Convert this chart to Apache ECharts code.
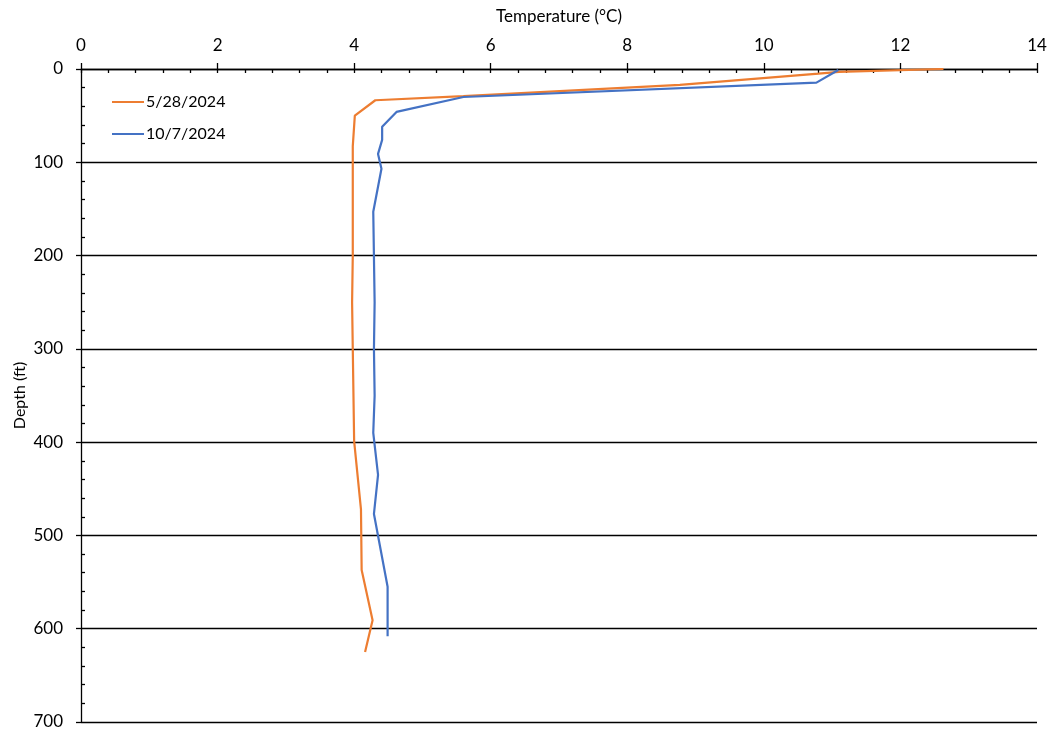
<!DOCTYPE html>
<html>
<head>
<meta charset="utf-8">
<script src="https://cdn.jsdelivr.net/npm/echarts@6/dist/echarts.min.js"></script>
<style>
html,body{margin:0;padding:0;background:#fff;}
#c{width:1052px;height:734px;}
</style>
</head>
<body>
<div id="c"></div>
<script>
const seriesNames = ['5/28/2024', '10/7/2024'];
// [temperature °C, depth ft]
const may28Temp  = [12.63, 11.10, 10.80, 8.77, 5.60, 4.31, 4.01, 3.98, 3.98, 3.97, 3.98, 4.00, 4.10, 4.11, 4.27, 4.16];
const may28Depth = [0,     3,     5,     17,   29,   33.5, 50,   83,   200,  250,  300,  399,  472,  537,  591,  625];
const oct7Temp   = [11.09, 10.77, 5.60, 4.62, 4.41, 4.41, 4.35, 4.40, 4.28, 4.30, 4.29, 4.30, 4.28, 4.35, 4.29, 4.49, 4.49];
const oct7Depth  = [1,     14.6,  30,   46,   62,   76,   91,   107,  153,  250,  300,  350,  390,  435,  477,  555,  608];
const xTicks = { min: 0, max: 14, interval: 2 };
const yTicks = { min: 0, max: 700, interval: 100 };

const pair = (a, b) => a.map((v, i) => [v, b[i]]);
const font = 'Lato, "Open Sans", sans-serif';
const txt = '#000';

const chart = echarts.init(document.getElementById('c'), null, { renderer: 'canvas' });
chart.setOption({
  animation: false,
  backgroundColor: '#fff',
  grid: { left: 81, right: 15, top: 69, bottom: 12, containLabel: false, outerBoundsMode: 'none' },
  legend: {
    orient: 'vertical', left: 107, top: 89,
    itemWidth: 32, itemHeight: 2, itemGap: 16,
    icon: 'rect',
    textStyle: { fontFamily: font, fontSize: 16, color: txt, padding: [0, 0, 0, -3] },
    data: seriesNames
  },
  xAxis: [
    {
      type: 'value', position: 'top', min: xTicks.min, max: xTicks.max, interval: xTicks.interval,
      name: 'Temperature (°C)', nameLocation: 'middle', nameGap: 44,
      nameTextStyle: { fontFamily: font, fontSize: 17, color: txt },
      axisLine: { show: true, lineStyle: { color: '#000', width: 1.3 } },
      axisTick: { show: true, inside: false, length: 6, lineStyle: { color: '#000', width: 1.3 } },
      axisLabel: { fontFamily: font, fontSize: 17, color: txt, margin: 15 },
      splitLine: { show: false }
    },
    {
      type: 'value', position: 'top', min: xTicks.min, max: xTicks.max, interval: xTicks.interval,
      axisLine: { show: false },
      axisTick: { show: true, inside: true, length: 4, lineStyle: { color: '#000', width: 1.3 } },
      minorTick: { show: true, splitNumber: 5, length: 4, lineStyle: { color: '#000', width: 1.3 } },
      axisLabel: { show: false },
      splitLine: { show: false }
    }
  ],
  yAxis: [
    {
      type: 'value', inverse: true, min: yTicks.min, max: yTicks.max, interval: yTicks.interval,
      name: 'Depth (ft)', nameLocation: 'middle', nameGap: 53, nameRotate: 90, nameMoveOverlap: false,
      nameTextStyle: { fontFamily: font, fontSize: 16, color: txt },
      axisLine: { show: true, lineStyle: { color: '#000', width: 1.3 } },
      axisTick: { show: true, inside: false, length: 5, lineStyle: { color: '#000', width: 1.3 } },
      axisLabel: { fontFamily: font, fontSize: 17, color: txt, margin: 18 },
      splitLine: { show: true, lineStyle: { color: '#000', width: 1.3 } }
    },
    {
      type: 'value', inverse: true, min: yTicks.min, max: yTicks.max, interval: yTicks.interval,
      position: 'left',
      axisLine: { show: false },
      axisTick: { show: false, inside: true, length: 4 },
      minorTick: { show: true, splitNumber: 5, length: 4, lineStyle: { color: '#000', width: 1.3 } },
      axisLabel: { show: false },
      splitLine: { show: false }
    }
  ],
  series: [
    {
      name: seriesNames[0], type: 'line', xAxisIndex: 0, yAxisIndex: 0,
      data: pair(may28Temp, may28Depth),
      showSymbol: false, symbol: 'none',
      lineStyle: { color: '#ED7D31', width: 2.2 }, itemStyle: { color: '#ED7D31' }
    },
    {
      name: seriesNames[1], type: 'line', xAxisIndex: 0, yAxisIndex: 0,
      data: pair(oct7Temp, oct7Depth),
      showSymbol: false, symbol: 'none',
      lineStyle: { color: '#4472C4', width: 2.2 }, itemStyle: { color: '#4472C4' }
    }
  ]
});
</script>
</body>
</html>
